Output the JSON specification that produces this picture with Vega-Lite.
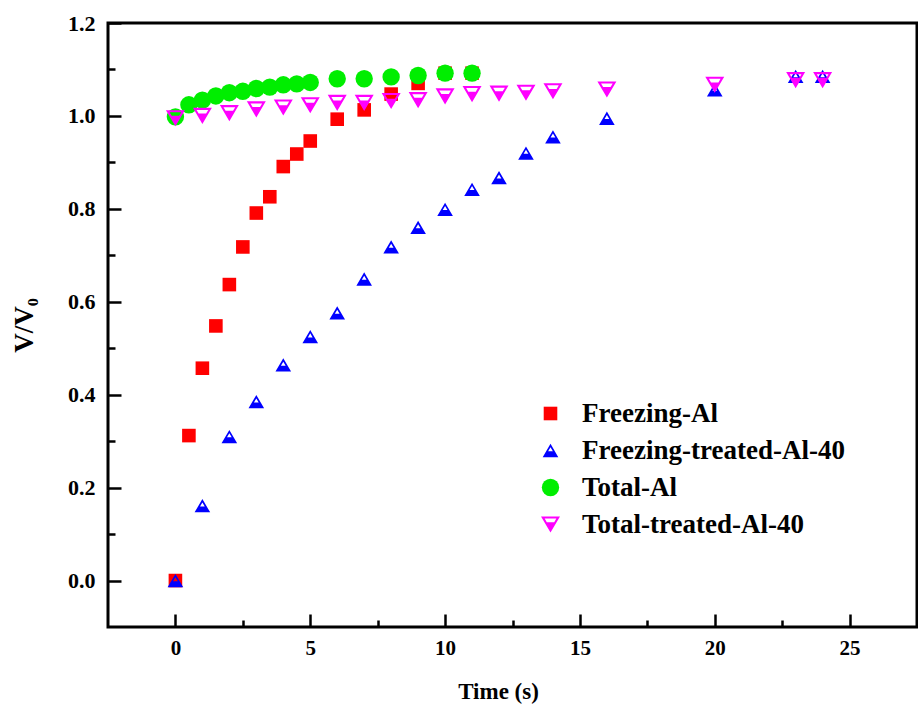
{
  "$schema": "https://vega.github.io/schema/vega-lite/v6.json",
  "width": 809,
  "height": 604,
  "autosize": {"type": "none"},
  "padding": {"left": 108, "top": 23, "right": 1, "bottom": 79},
  "background": "white",
  "config": {
    "view": {"stroke": "black", "strokeWidth": 3},
    "axis": {
      "grid": false,
      "domain": false,
      "tickColor": "black",
      "tickWidth": 2.5,
      "labelFont": "Liberation Serif",
      "labelFontWeight": "bold",
      "labelColor": "black",
      "titleFont": "Liberation Serif",
      "titleFontWeight": "bold",
      "titleColor": "black"
    }
  },
  "data": {
    "values": [
      {"t": 0, "v": 0.0, "s": "Freezing-Al"},
      {"t": 0.5, "v": 0.312, "s": "Freezing-Al"},
      {"t": 1, "v": 0.457, "s": "Freezing-Al"},
      {"t": 1.5, "v": 0.548, "s": "Freezing-Al"},
      {"t": 2, "v": 0.637, "s": "Freezing-Al"},
      {"t": 2.5, "v": 0.718, "s": "Freezing-Al"},
      {"t": 3, "v": 0.791, "s": "Freezing-Al"},
      {"t": 3.5, "v": 0.826, "s": "Freezing-Al"},
      {"t": 4, "v": 0.891, "s": "Freezing-Al"},
      {"t": 4.5, "v": 0.918, "s": "Freezing-Al"},
      {"t": 5, "v": 0.946, "s": "Freezing-Al"},
      {"t": 6, "v": 0.993, "s": "Freezing-Al"},
      {"t": 7, "v": 1.013, "s": "Freezing-Al"},
      {"t": 8, "v": 1.047, "s": "Freezing-Al"},
      {"t": 9, "v": 1.07, "s": "Freezing-Al"},
      {"t": 10, "v": 1.092, "s": "Freezing-Al"},
      {"t": 11, "v": 1.092, "s": "Freezing-Al"},
      {"t": 0, "v": 0.0, "s": "Freezing-treated-Al-40"},
      {"t": 1, "v": 0.161, "s": "Freezing-treated-Al-40"},
      {"t": 2, "v": 0.31, "s": "Freezing-treated-Al-40"},
      {"t": 3, "v": 0.385, "s": "Freezing-treated-Al-40"},
      {"t": 4, "v": 0.464, "s": "Freezing-treated-Al-40"},
      {"t": 5, "v": 0.525, "s": "Freezing-treated-Al-40"},
      {"t": 6, "v": 0.576, "s": "Freezing-treated-Al-40"},
      {"t": 7, "v": 0.649, "s": "Freezing-treated-Al-40"},
      {"t": 8, "v": 0.718, "s": "Freezing-treated-Al-40"},
      {"t": 9, "v": 0.76, "s": "Freezing-treated-Al-40"},
      {"t": 10, "v": 0.799, "s": "Freezing-treated-Al-40"},
      {"t": 11, "v": 0.842, "s": "Freezing-treated-Al-40"},
      {"t": 12, "v": 0.867, "s": "Freezing-treated-Al-40"},
      {"t": 13, "v": 0.92, "s": "Freezing-treated-Al-40"},
      {"t": 14, "v": 0.955, "s": "Freezing-treated-Al-40"},
      {"t": 16, "v": 0.995, "s": "Freezing-treated-Al-40"},
      {"t": 20, "v": 1.056, "s": "Freezing-treated-Al-40"},
      {"t": 23, "v": 1.085, "s": "Freezing-treated-Al-40"},
      {"t": 24, "v": 1.085, "s": "Freezing-treated-Al-40"},
      {"t": 0, "v": 0.998, "s": "Total-Al"},
      {"t": 0.5, "v": 1.024, "s": "Total-Al"},
      {"t": 1, "v": 1.034, "s": "Total-Al"},
      {"t": 1.5, "v": 1.043, "s": "Total-Al"},
      {"t": 2, "v": 1.05, "s": "Total-Al"},
      {"t": 2.5, "v": 1.053, "s": "Total-Al"},
      {"t": 3, "v": 1.059, "s": "Total-Al"},
      {"t": 3.5, "v": 1.062, "s": "Total-Al"},
      {"t": 4, "v": 1.067, "s": "Total-Al"},
      {"t": 4.5, "v": 1.069, "s": "Total-Al"},
      {"t": 5, "v": 1.072, "s": "Total-Al"},
      {"t": 6, "v": 1.08, "s": "Total-Al"},
      {"t": 7, "v": 1.08, "s": "Total-Al"},
      {"t": 8, "v": 1.084, "s": "Total-Al"},
      {"t": 9, "v": 1.087, "s": "Total-Al"},
      {"t": 10, "v": 1.092, "s": "Total-Al"},
      {"t": 11, "v": 1.092, "s": "Total-Al"},
      {"t": 0, "v": 0.995, "s": "Total-treated-Al-40"},
      {"t": 1, "v": 1.0, "s": "Total-treated-Al-40"},
      {"t": 2, "v": 1.006, "s": "Total-treated-Al-40"},
      {"t": 3, "v": 1.014, "s": "Total-treated-Al-40"},
      {"t": 4, "v": 1.018, "s": "Total-treated-Al-40"},
      {"t": 5, "v": 1.023, "s": "Total-treated-Al-40"},
      {"t": 6, "v": 1.028, "s": "Total-treated-Al-40"},
      {"t": 7, "v": 1.028, "s": "Total-treated-Al-40"},
      {"t": 8, "v": 1.032, "s": "Total-treated-Al-40"},
      {"t": 9, "v": 1.034, "s": "Total-treated-Al-40"},
      {"t": 10, "v": 1.042, "s": "Total-treated-Al-40"},
      {"t": 11, "v": 1.047, "s": "Total-treated-Al-40"},
      {"t": 12, "v": 1.048, "s": "Total-treated-Al-40"},
      {"t": 13, "v": 1.05, "s": "Total-treated-Al-40"},
      {"t": 14, "v": 1.053, "s": "Total-treated-Al-40"},
      {"t": 16, "v": 1.057, "s": "Total-treated-Al-40"},
      {"t": 20, "v": 1.067, "s": "Total-treated-Al-40"},
      {"t": 23, "v": 1.077, "s": "Total-treated-Al-40"},
      {"t": 24, "v": 1.077, "s": "Total-treated-Al-40"}
    ]
  },
  "mark": {"type": "point", "filled": true, "opacity": 1, "strokeWidth": 0},
  "encoding": {
    "x": {
      "field": "t",
      "type": "quantitative",
      "scale": {"domain": [-2.5, 27.5], "nice": false, "zero": false},
      "axis": {
        "title": "Time (s)",
        "titleFontSize": 23,
        "titleX": 390,
        "titleY": 71,
        "titleBaseline": "alphabetic",
        "values": [0, 2.5, 5, 7.5, 10, 12.5, 15, 17.5, 20, 22.5, 25],
        "labelExpr": "datum.value % 5 === 0 ? datum.label : ''",
        "labelFontSize": 21,
        "labelPadding": 23,
        "tickSize": {"condition": {"test": "datum.value % 5 === 0", "value": -13}, "value": -7}
      }
    },
    "y": {
      "field": "v",
      "type": "quantitative",
      "scale": {"domain": [-0.1, 1.2], "nice": false, "zero": false},
      "axis": {
        "title": "V/V₀",
        "titleFontSize": 27,
        "titleX": -76,
        "titleBaseline": "alphabetic",
        "values": [0, 0.1, 0.2, 0.3, 0.4, 0.5, 0.6, 0.7, 0.8, 0.9, 1.0, 1.1, 1.2],
        "labelExpr": "round(datum.value * 10) % 2 === 0 ? format(datum.value, '.1f') : ''",
        "labelFontSize": 22,
        "labelPadding": 26,
        "tickSize": {"condition": {"test": "round(datum.value * 10) % 2 === 0", "value": -13}, "value": -7}
      }
    },
    "color": {
      "field": "s",
      "type": "nominal",
      "scale": {
        "domain": ["Freezing-Al", "Freezing-treated-Al-40", "Total-Al", "Total-treated-Al-40"],
        "range": ["#ff0000", "#0000ff", "#00ee00", "#ff00ff"]
      },
      "legend": {
        "title": null,
        "orient": "none",
        "legendX": 429,
        "legendY": 377,
        "padding": 0,
        "rowPadding": 9,
        "labelOffset": 18,
        "labelLimit": 0,
        "labelFont": "Liberation Serif",
        "labelFontWeight": "bold",
        "labelFontSize": 27,
        "labelColor": "black",
        "symbolSize": 220,
        "symbolStrokeWidth": 0,
        "symbolOpacity": 1
      }
    },
    "shape": {
      "field": "s",
      "type": "nominal",
      "scale": {
        "domain": ["Freezing-Al", "Freezing-treated-Al-40", "Total-Al", "Total-treated-Al-40"],
        "range": [
          "square",
          "M0,-0.85L1,0.85L-1,0.85ZM0,-0.416L-0.304,0.1L0.304,0.1Z",
          "circle",
          "M0,0.85L1,-0.85L-1,-0.85ZM-0.615,-0.63L0.615,-0.63L0.392,-0.25L-0.392,-0.25Z"
        ]
      }
    },
    "size": {
      "field": "s",
      "type": "nominal",
      "scale": {
        "domain": ["Freezing-Al", "Freezing-treated-Al-40", "Total-Al", "Total-treated-Al-40"],
        "range": [185, 360, 235, 360]
      },
      "legend": null
    }
  }
}
